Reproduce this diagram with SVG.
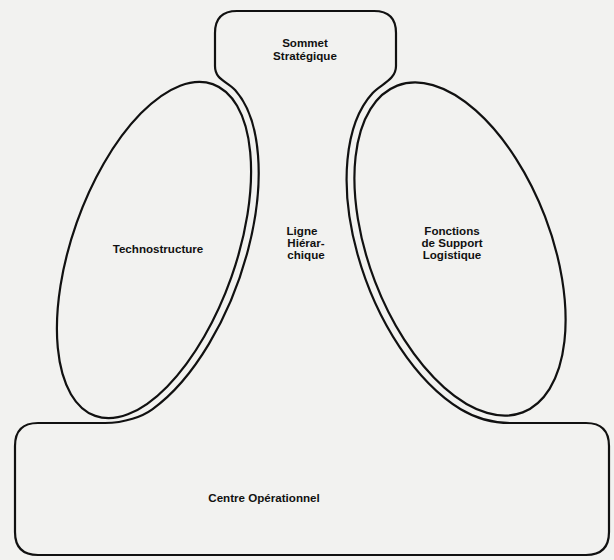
<svg xmlns="http://www.w3.org/2000/svg" width="614" height="560" viewBox="0 0 614 560">
  <style>
    .line { fill: none; stroke: #111; stroke-width: 2.2; stroke-linejoin: round; }
    .lbl { font-family: "Liberation Sans", Arial, Helvetica, sans-serif; font-weight: bold; font-size: 11.6px; fill: #111; text-anchor: middle; }
  </style>
  <rect x="0" y="0" width="614" height="560" fill="#f2f2f0"/>
  <g id="connectors"></g>
  <g id="outline">
    <path class="line" d="M 237,11 H 374 Q 396,11 396,33 V 66 C 396,80 380.7,84.1 372.7,93.1 A 99 183 -21 0 0 460.7,409.3 C 471,415.5 488,423 510,423 H 586 Q 609,423 609,446 V 532 Q 609,555 586,555 H 38 Q 15,555 15,532 V 446 Q 15,423 38,423 H 105 C 125,423 142.6,416.3 152.3,409.3 A 90 184 19.5 0 0 235.3,90.3 C 227.3,81.4 215,80 215,66 V 33 Q 215,11 237,11 Z"/>
  </g>
  <g id="sommet-strategique">
    <text class="lbl" x="305" y="47">Sommet</text>
    <text class="lbl" x="305" y="60">Stratégique</text>
  </g>
  <g id="technostructure">
    <ellipse class="line" cx="154" cy="250" rx="82" ry="176" transform="rotate(19.5 154 250)"/>
    <text class="lbl" x="158" y="253">Technostructure</text>
  </g>
  <g id="ligne-hierarchique">
    <text class="lbl" x="302" y="235">Ligne</text>
    <text class="lbl" x="306" y="247">Hiérar-</text>
    <text class="lbl" x="306" y="259">chique</text>
  </g>
  <g id="fonctions-support">
    <ellipse class="line" cx="460" cy="249" rx="91" ry="175" transform="rotate(-21 460 249)"/>
    <text class="lbl" x="452" y="235">Fonctions</text>
    <text class="lbl" x="452" y="247">de Support</text>
    <text class="lbl" x="452" y="259">Logistique</text>
  </g>
  <g id="centre-operationnel">
    <text class="lbl" x="264" y="502">Centre  Opérationnel</text>
  </g>
</svg>
